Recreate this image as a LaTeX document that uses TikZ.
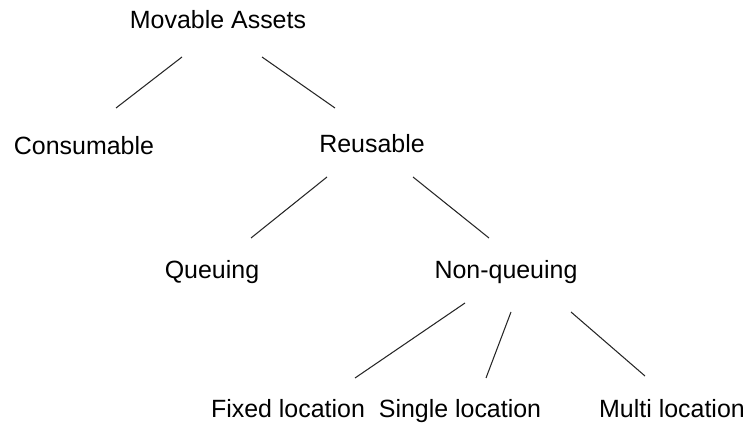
\documentclass[tikz,border=0pt]{standalone}
\usepackage{fontspec}
\setmainfont{Liberation Sans}
\usetikzlibrary{calc}
\tikzset{
    asset/.style={anchor=base, inner sep=0pt, font=\fontsize{14.2}{17}\selectfont},
    branch/.style={draw=black!85, line width=0.6pt}
}

\begin{document}
\begin{tikzpicture}
  [
    x = 0.02cm,
    y = -0.02cm,
  ]
  \useasboundingbox (0,0) rectangle (748,429);
  \node [asset] (movable)  at (218,29)  {Movable Assets};
  \node [asset] (consum)   at (84,155)  {Consumable};
  \node [asset] (reuse)    at (372,153) {Reusable};
  \node [asset] (queue)    at (212,278) {Queuing};
  \node [asset] (nonqueue) at (506,278) {Non-queuing};
  \node [asset] (fixed)    at (288,418) {Fixed location};
  \node [asset] (single)   at (460,418) {Single location};
  \node [asset] (multi)    at (672,418) {Multi location};

  \draw [branch] ($(movable.base)+(-36,28)$) -- ($(consum.base)+(32,-47)$);
  \draw [branch] ($(movable.base)+(44,28)$)  -- ($(reuse.base)+(-37,-45)$);
  \draw [branch] ($(reuse.base)+(-45,24)$)   -- ($(queue.base)+(39,-40)$);
  \draw [branch] ($(reuse.base)+(41,24)$)    -- ($(nonqueue.base)+(-17,-40)$);
  \draw [branch] ($(nonqueue.base)+(-41,25)$) -- ($(fixed.base)+(67,-40)$);
  \draw [branch] ($(nonqueue.base)+(5,34)$)  -- ($(single.base)+(26,-40)$);
  \draw [branch] ($(nonqueue.base)+(65,34)$) -- ($(multi.base)+(-27,-42)$);
\end{tikzpicture}
\end{document}
